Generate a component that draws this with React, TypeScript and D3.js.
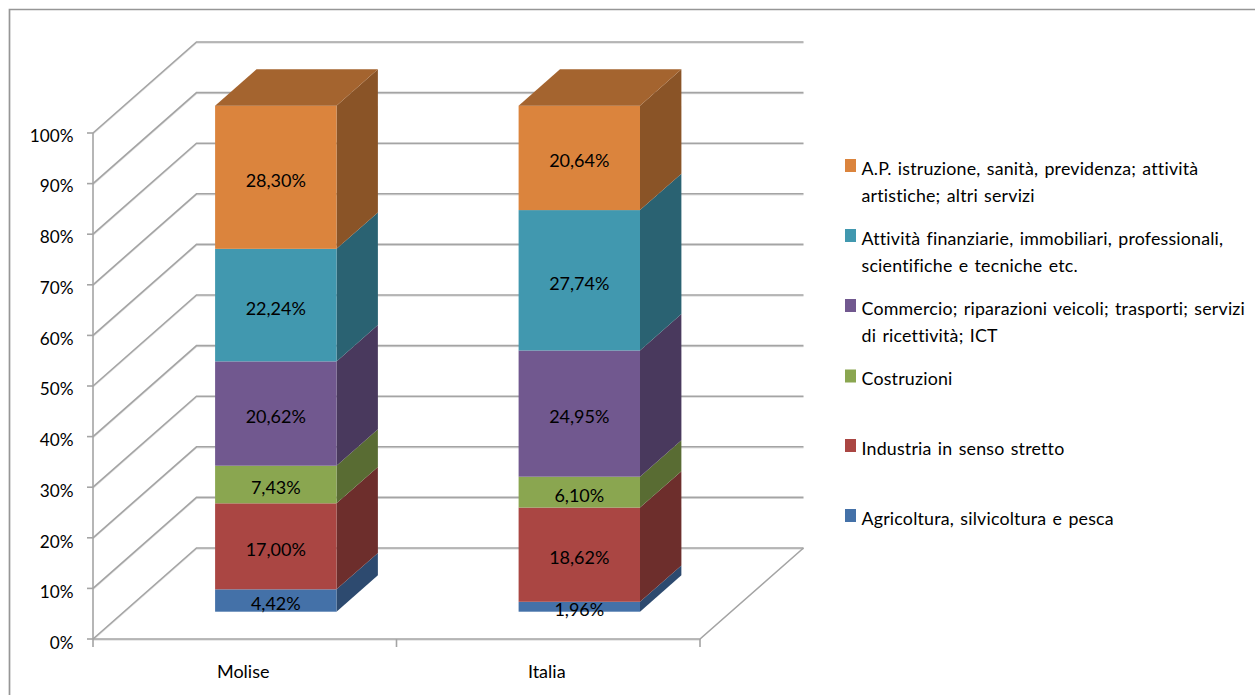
import React from "react";
import * as d3 from "d3";

const categories = ["Molise", "Italia"];
const seriesNames = ["Agricoltura", "Industria", "Costruzioni", "Commercio", "Finanza", "AP"];
const moliseValues = [4.42, 17.0, 7.43, 20.62, 22.24, 28.3];
const italiaValues = [1.96, 18.62, 6.1, 24.95, 27.74, 20.64];
const frontColors = ["#4471a8", "#aa4643", "#8aa650", "#71588f", "#4198af", "#db843d"];
const sideColors = ["#2d4a6f", "#6d2e2c", "#596c33", "#49395d", "#2a6272", "#8a5427"];
const topColor = "#a4642f";
const yTicks = [0, 10, 20, 30, 40, 50, 60, 70, 80, 90, 100];
const legendRows = [
  { color: "#db843d", swatchY: 159, lines: [["A.P. istruzione, sanità, previdenza; attività", 174.5], ["artistiche; altri servizi", 201.5]] },
  { color: "#4198af", swatchY: 229, lines: [["Attività finanziarie, immobiliari, professionali,", 244.5], ["scientifiche e tecniche etc.", 271.5]] },
  { color: "#71588f", swatchY: 299, lines: [["Commercio; riparazioni veicoli; trasporti; servizi", 314.5], ["di ricettività; ICT", 341.5]] },
  { color: "#8aa650", swatchY: 369.5, lines: [["Costruzioni", 384.5]] },
  { color: "#aa4643", swatchY: 439, lines: [["Industria in senso stretto", 454.5]] },
  { color: "#4471a8", swatchY: 509, lines: [["Agricoltura, silvicoltura e pesca", 524.5]] },
];

const FONT = "Lato, 'Open Sans', sans-serif";
const FS_TICK = 17.2;
const FS_LABEL = 18;
const FS_LEGEND = 17.8;
const GRID = "#a4a4a4";
const SHADOW = "#e2e2e2";
const backDx = 103.5;
const backDy = -91;
const noLig: React.CSSProperties = { fontVariantLigatures: "none" };

const y = d3.scaleLinear().domain([0, 100]).range([639, 133]);
const tickBaseline = d3.scaleLinear().domain([0, 100]).range([649, 141.5]);
const x = d3.scaleBand().domain(categories).range([93, 700]);
const values: Record<string, number[]> = { Molise: moliseValues, Italia: italiaValues };
const fmt = (v: number) => v.toFixed(2).replace(".", ",") + "%";

// oblique projection: depth 0 = front of floor, 1 = back wall
const px = (cat: string, along: number, depth: number) => (x(cat) as number) + x.bandwidth() * along + backDx * depth;
const py = (value: number, depth: number) => y(value) + backDy * depth;

const pts = (p: number[][]) => p.map((q) => q.join(",")).join(" ");

function Bar({ cat }: { cat: string }) {
  const vals = values[cat];
  const stacked = d3.stack().keys(seriesNames)([
    Object.fromEntries(seriesNames.map((s, i) => [s, vals[i]])) as any,
  ]);
  const a0 = 0.5 - 0.2, a1 = 0.5 + 0.2;
  const d0 = 0.3, d1 = 0.7;
  const topV = stacked[stacked.length - 1][0][1];
  return (
    <g>
      {stacked.map((s, i) => {
        const [lo, hi] = s[0];
        const xl = px(cat, a0, d0), xr = px(cat, a1, d0), xb = px(cat, a1, d1);
        return (
          <g key={i}>
            <polygon fill={sideColors[i]} points={pts([[xr, py(lo, d0)], [xb, py(lo, d1)], [xb, py(hi, d1)], [xr, py(hi, d0)]])} />
            <rect x={xl} y={py(hi, d0)} width={xr - xl} height={py(lo, d0) - py(hi, d0)} fill={frontColors[i]} />
          </g>
        );
      })}
      <polygon
        fill={topColor}
        points={pts([[px(cat, a0, d0), py(topV, d0)], [px(cat, a1, d0), py(topV, d0)], [px(cat, a1, d1), py(topV, d1)], [px(cat, a0, d1), py(topV, d1)]])}
      />
      {stacked.map((s, i) => {
        const [lo, hi] = s[0];
        return (
          <text key={i} x={px(cat, 0.5, d0)} y={(py(lo, d0) + py(hi, d0)) / 2 + 9.5} textAnchor="middle" fontFamily={FONT} fontSize={FS_LABEL} fill="#000">
            {fmt(vals[i])}
          </text>
        );
      })}
    </g>
  );
}

export default function App() {
  const x0 = x.range()[0], x1 = x.range()[1];
  const boundaries = [x0, ...categories.map((c) => (x(c) as number) + x.bandwidth())];
  return (
    <svg width={1255} height={695} style={{ position: "absolute", left: 0, top: 0, display: "block", background: "#fff" }}>
      {/* frame, running off the page on the right and bottom */}
      <path d="M9.5 700V9.5H1260" fill="none" stroke="#969696" strokeWidth={1.7} />

      {/* walls and gridlines */}
      {yTicks.map((t) => (
        <g key={t} fill="none">
          <path d={`M${x0} ${y(t) + 1}L${x0 + backDx} ${y(t) + backDy + 1}H${x1 + backDx}`} stroke={SHADOW} strokeWidth={1.4} />
          <path d={`M${x0} ${y(t)}L${x0 + backDx} ${y(t) + backDy}H${x1 + backDx}`} stroke={GRID} strokeWidth={1.6} />
          <path d={`M${x0 - 6} ${y(t)}H${x0}`} stroke={GRID} strokeWidth={1.6} />
          <text x={73.5} y={tickBaseline(t)} textAnchor="end" fontFamily={FONT} fontSize={FS_TICK} fill="#000" stroke="none">
            {t}%
          </text>
        </g>
      ))}
      {/* floor and axes */}
      <path d={`M${x0} ${y(100)}V${y(0)}`} stroke={GRID} strokeWidth={1.6} fill="none" />
      <path d={`M${x0} ${y(0) + 1}H${x1}`} stroke={SHADOW} strokeWidth={1.6} fill="none" />
      <path d={`M${x0} ${y(0)}H${x1}L${x1 + backDx} ${y(0) + backDy}`} stroke={GRID} strokeWidth={1.6} fill="none" />
      {boundaries.map((b, i) => (
        <path key={i} d={`M${b} ${y(0)}V${y(0) + 8}`} stroke={GRID} strokeWidth={1.6} />
      ))}

      {categories.map((c) => (
        <Bar key={c} cat={c} />
      ))}

      {categories.map((c) => (
        <text key={c} x={px(c, 0.5, 0) - 1.5} y={678} textAnchor="middle" fontFamily={FONT} fontSize={FS_LABEL} fill="#000">
          {c}
        </text>
      ))}

      {legendRows.map((r, i) => (
        <g key={i}>
          <rect x={845} y={r.swatchY} width={11} height={13} fill={r.color} />
          {r.lines.map(([txt, by]) => (
            <text key={txt as string} x={861.5} y={by as number} fontFamily={FONT} fontSize={FS_LEGEND} letterSpacing={0.2} wordSpacing={1.5} fill="#000" style={noLig}>
              {txt}
            </text>
          ))}
        </g>
      ))}
    </svg>
  );
}
